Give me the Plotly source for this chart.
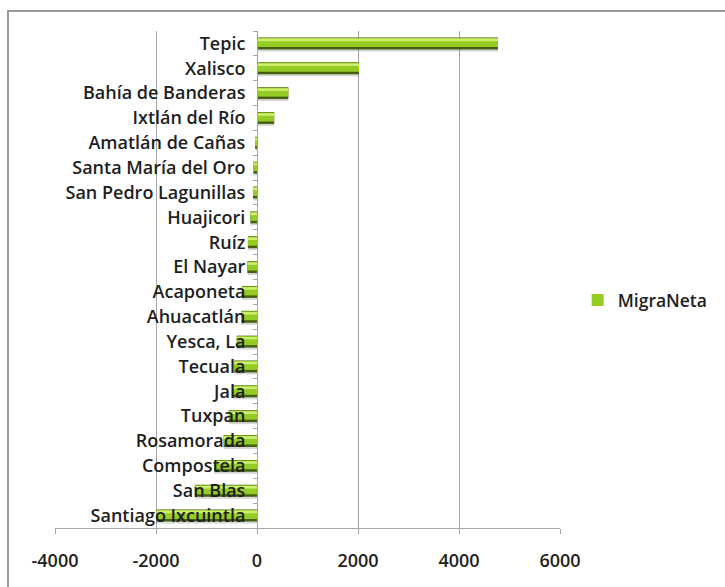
import plotly.graph_objects as go

# Net migration by municipality (top to bottom as listed)
municipios = [
    "Tepic", "Xalisco", "Bahía de Banderas", "Ixtlán del Río", "Amatlán de Cañas",
    "Santa María del Oro", "San Pedro Lagunillas", "Huajicori", "Ruíz", "El Nayar",
    "Acaponeta", "Ahuacatlán", "Yesca, La", "Tecuala", "Jala", "Tuxpan",
    "Rosamorada", "Compostela", "San Blas", "Santiago Ixcuintla",
]
migra_neta = [
    4770, 2020, 620, 340, -20,
    -70, -80, -130, -180, -190,
    -300, -310, -400, -450, -480, -560,
    -660, -850, -1230, -1990,
]

x_ticks = [-4000, -2000, 0, 2000, 4000, 6000]
series_name = "MigraNeta"

FONT = "Open Sans"
TEXT = "#1e1e1e"
fig = go.Figure()

# Layered bars give the bevelled, shaded look: soft shadow, dark body,
# bright green face and a pale highlight strip.
layers = [
    dict(color="rgba(70,70,70,0.22)", width=0.46, offset=-0.14, legend=False),
    dict(color="#44600f", width=0.48, offset=-0.24, legend=False),
    dict(color="#96ca24", width=0.36, offset=-0.22, legend=True),
    dict(color="#cdf06e", width=0.10, offset=-0.19, legend=False),
]
for ly in layers:
    fig.add_trace(go.Bar(
        x=migra_neta, y=municipios, orientation="h",
        name=series_name, showlegend=ly["legend"],
        marker=dict(color=ly["color"], line=dict(width=0)),
        width=ly["width"], offset=ly["offset"],
        hoverinfo="x+y",
    ))

fig.update_layout(
    width=725, height=587,
    margin=dict(l=55, r=165, t=31, b=59),
    paper_bgcolor="white", plot_bgcolor="white",
    barmode="overlay",
    font=dict(family=FONT, size=16, color=TEXT),
    showlegend=True,
    legend=dict(
        x=1.035, y=(528 - 300) / 497, xanchor="left", yanchor="middle",
        itemwidth=30,
        font=dict(family=FONT, size=17.5, color=TEXT, weight=600),
        bgcolor="rgba(0,0,0,0)",
    ),
    xaxis=dict(
        range=[x_ticks[0], x_ticks[-1]],
        tickvals=x_ticks, ticktext=[str(v) for v in x_ticks],
        showgrid=True, gridcolor="#a6a6a6", gridwidth=1,
        zeroline=False,
        showline=True, linecolor="#a6a6a6", linewidth=1,
        ticks="outside", ticklen=5, tickcolor="#a6a6a6",
        ticklabelstandoff=11,
        tickfont=dict(family=FONT, size=18, color=TEXT, weight=600),
        fixedrange=True,
    ),
    yaxis=dict(
        categoryorder="array", categoryarray=municipios,
        autorange="reversed",
        anchor="free", position=(0 - x_ticks[0]) / (x_ticks[-1] - x_ticks[0]),
        showgrid=False, zeroline=False,
        showline=True, linecolor="#a6a6a6", linewidth=1,
        ticks="outside", tickson="boundaries", ticklen=4, tickcolor="#a6a6a6",
        ticklabelstandoff=8,
        tickfont=dict(family=FONT, size=18, color=TEXT, weight=600),
        fixedrange=True,
    ),
)

# Chart frame
fig.add_shape(
    type="rect", xref="paper", yref="paper",
    x0=(8 - 55) / 505, x1=(740 - 55) / 505,
    y0=(528 - 600) / 497, y1=(528 - 11) / 497,
    line=dict(color="#9a9a9a", width=2), fillcolor="rgba(0,0,0,0)",
    layer="below",
)

fig.write_html("out.html")
